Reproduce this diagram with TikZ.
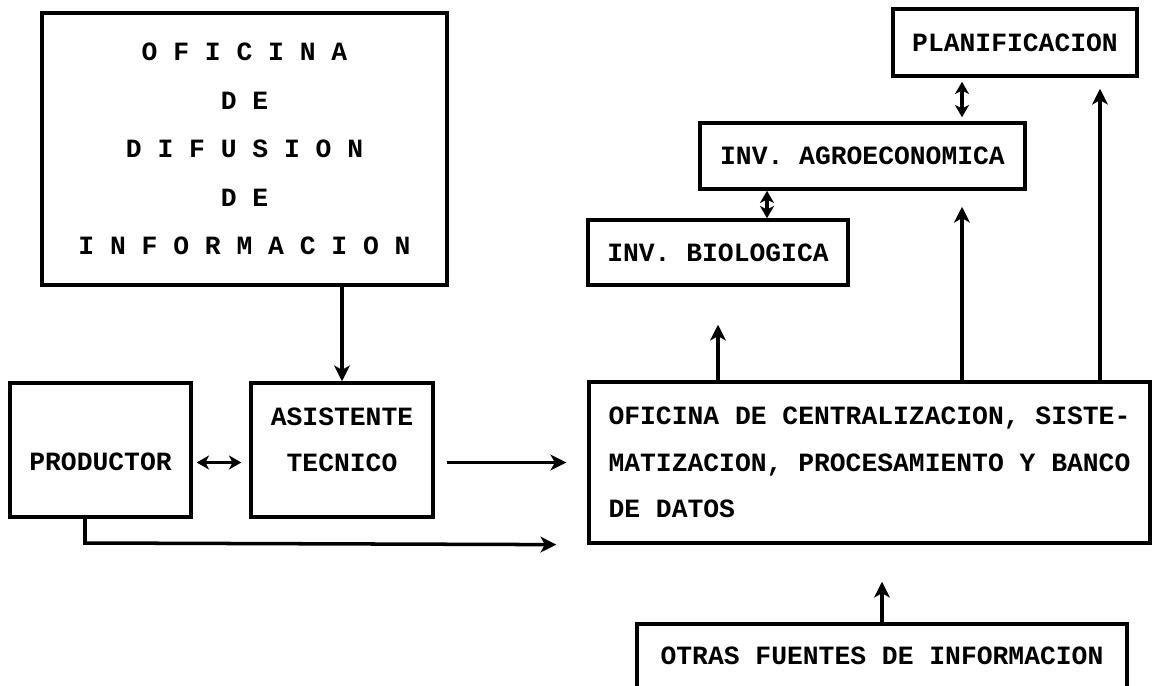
\documentclass[tikz,border=0pt]{standalone}
\usepackage{fontspec}
\setmonofont{Liberation Mono}
\usetikzlibrary{arrows.meta}

\begin{document}
\begin{tikzpicture}[x=0.02cm,y=-0.02cm,
        texto/.style={font=\ttfamily\bfseries\fontsize{15}{26.5}\selectfont},
        caja/.style={shape=rectangle,draw=black,line width=2pt,texto},
        espaciado/.style={font=\ttfamily\bfseries\fontsize{15}{27.6}\selectfont},
        flecha/.style={line width=2pt,-{Stealth[length=9pt,width=9pt,inset=2.5pt]}},
        doble/.style={line width=2pt,{Stealth[length=7pt,width=8pt,inset=2pt]}-{Stealth[length=7pt,width=8pt,inset=2pt]}}]
        \useasboundingbox (0,0) rectangle (1154,686);
        \node[caja,espaciado,minimum width=8.1cm,minimum height=5.44cm,align=center] (D) at (244.5,149) {O F I C I N A\\D E\\D I F U S I O N\\D E\\I N F O R M A C I O N};
        \node[caja,minimum width=3.62cm,inner sep=0pt,text height=1.75cm,text depth=0.93cm] (P) at (100.5,450) {PRODUCTOR};
        \node[caja,minimum width=3.64cm,minimum height=2.68cm,label={[texto,align=center,yshift=0.2cm]center:ASISTENTE\\TECNICO}] (T) at (342,450) {};
        \node[caja,minimum width=11.22cm,minimum height=3.22cm,align=left] (C) at (869.5,462.5) {OFICINA DE CENTRALIZACION, SISTE-\\MATIZACION, PROCESAMIENTO Y BANCO\\DE DATOS};
        \node[caja,minimum width=9.8cm,minimum height=1.28cm] (O) at (882,656) {OTRAS FUENTES DE INFORMACION};
        \node[caja,minimum width=5.2cm,minimum height=1.3cm] (B) at (718,252.5) {INV. BIOLOGICA};
        \node[caja,minimum width=6.5cm,minimum height=1.32cm] (A) at (862.5,156) {INV. AGROECONOMICA};
        \node[caja,minimum width=4.88cm,minimum height=1.34cm] (L) at (1015,42.5) {PLANIFICACION};
        \coordinate (E) at (85,543);
        \coordinate (X1) at (767,0);
        \coordinate (X2) at (962,0);
        \coordinate (X3) at (1100,0);
        \path [flecha](T.north |- D.south) edge (T.north);
        \path [doble,shorten <=0.08cm,shorten >=0.16cm](P.east |- C.west) edge (T.west |- C.west);
        \path [flecha,shorten <=0.24cm,shorten >=0.42cm](T.east |- C.west) edge (C.west);
        \draw [flecha,shorten >=0.62cm](P.south -| E) -- (E) -- (C.south west);
        \path [flecha,shorten >=0.74cm](O.north) edge (O.north |- C.south);
        \path [flecha,shorten >=0.76cm](B.south |- C.north) edge (B.south);
        \path [flecha,shorten >=0.32cm](X2 |- C.north) edge (X2 |- A.south);
        \path [flecha,shorten >=0.22cm](X3 |- C.north) edge (X3 |- L.south);
        \path [doble](X1 |- A.south) edge (X1 |- B.north);
        \path [doble,shorten <=0.08cm,shorten >=0.08cm](X2 |- L.south) edge (X2 |- A.north);
    \end{tikzpicture}
\end{document}
